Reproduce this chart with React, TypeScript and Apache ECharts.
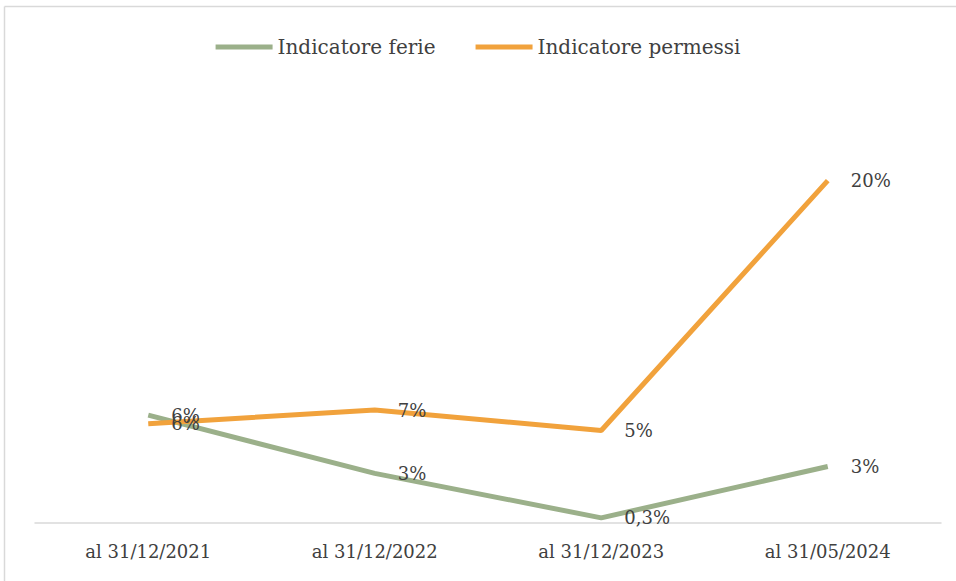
import React, { useEffect, useRef } from "react";
import * as echarts from "echarts";

const categories = ["al 31/12/2021", "al 31/12/2022", "al 31/12/2023", "al 31/05/2024"];
const ferie = [6.3, 2.9, 0.3, 3.3];
const permessi = [5.8, 6.6, 5.4, 20];
const seriesNames = ["Indicatore ferie", "Indicatore permessi"];

const FONT = "'DejaVu Serif', 'Liberation Serif', serif";

const fmt = (v: number) =>
  v < 1 ? v.toFixed(1).replace(".", ",") + "%" : Math.round(v) + "%";

export default function App() {
  const ref = useRef<HTMLDivElement>(null);
  useEffect(() => {
    if (!ref.current) return;
    const chart = echarts.init(ref.current, undefined, { renderer: "svg" });
    const label = {
      show: true,
      position: "right",
      distance: 23,
      color: "#404040",
      fontFamily: FONT,
      fontSize: 18,
      formatter: (p: any) => fmt(p.value),
    };
    chart.setOption({
      animation: false,
      backgroundColor: "#ffffff",
      graphic: [
        { type: "line", shape: { x1: 4.5, y1: 6.5, x2: 956, y2: 6.5 }, style: { stroke: "#d9d9d9", lineWidth: 1.5 } },
        { type: "line", shape: { x1: 4.5, y1: 6.5, x2: 4.5, y2: 581 }, style: { stroke: "#d9d9d9", lineWidth: 1.5 } },
      ],
      legend: {
        top: 32,
        left: "center",
        itemWidth: 57,
        itemHeight: 5,
        itemGap: 40,
        icon: "rect",
        textStyle: { color: "#404040", fontFamily: FONT, fontSize: 20 },
        data: seriesNames,
      },
      grid: { left: 35, right: 15, top: 95, bottom: 58, containLabel: false },
      xAxis: {
        type: "category",
        data: categories,
        boundaryGap: true,
        axisLine: { lineStyle: { color: "#d9d9d9", width: 1.5 } },
        axisTick: { show: false },
        axisLabel: { color: "#404040", fontFamily: FONT, fontSize: 18, margin: 19 },
      },
      yAxis: {
        type: "value",
        min: 0,
        max: 25,
        show: false,
        splitLine: { show: false },
      },
      series: [
        {
          name: seriesNames[0],
          type: "line",
          data: ferie,
          symbol: "circle",
          symbolSize: 0,
          showSymbol: true,
          lineStyle: { color: "#9bb08a", width: 5 },
          itemStyle: { color: "#9bb08a" },
          label,
        },
        {
          name: seriesNames[1],
          type: "line",
          data: permessi,
          symbol: "circle",
          symbolSize: 0,
          showSymbol: true,
          lineStyle: { color: "#f1a23c", width: 5 },
          itemStyle: { color: "#f1a23c" },
          label,
        },
      ],
    });
    return () => chart.dispose();
  }, []);
  return <div ref={ref} style={{ width: 956, height: 581, position: "absolute", left: 0, top: 0 }} />;
}
